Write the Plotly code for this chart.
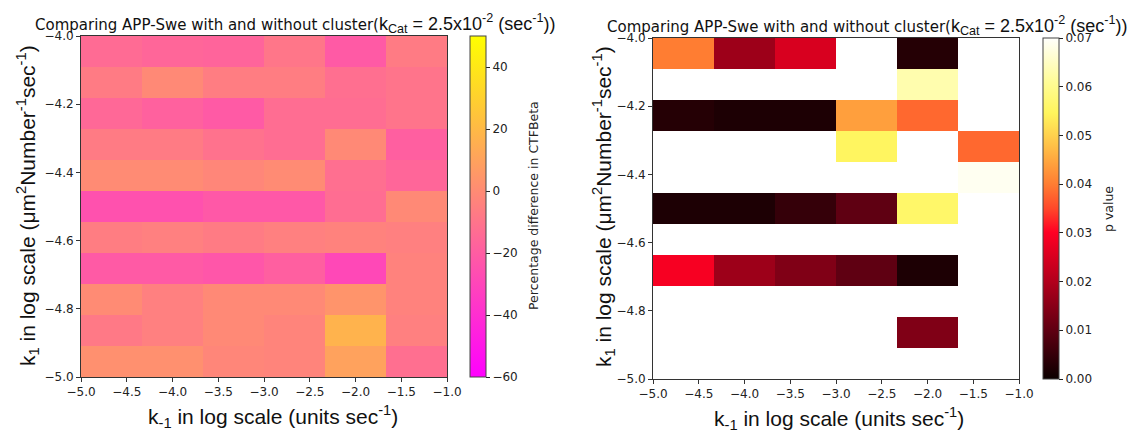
import plotly.graph_objects as go

# ---------------- data ----------------
# column edges (k_-1, log scale) and row edges (k_1, log scale)
k_minus1_edges = [-5.0, -13/3, -11/3, -3.0, -7/3, -5/3, -1.0]
k1_edges = [-5.0, -4.9091, -4.8182, -4.7273, -4.6364, -4.5455,
            -4.4545, -4.3636, -4.2727, -4.1818, -4.0909, -4.0]

# percentage difference in CTFBeta, rows listed from top (k1=-4.0) to bottom (k1=-5.0)
pct_diff_rows = [
    [-14, -16, -17, -9, -21, -7],
    [-7, -1, -6, -6, -12, -10],
    [-15, -18, -21, -13, -13, -10],
    [-7, -7, -11, -13, -1, -19],
    [0, 0, -2, 0, -12, -16],
    [-25, -25, -22, -22, -13, -1],
    [-6, -5, -7, -5, -4, -5],
    [-21, -21, -23, -19, -29, -4],
    [0, -5, -1, -1, 4, -4],
    [-8, -5, -1, -3, 17, -5],
    [2, 2, -2, -3, 10, -12],
]

N = None
# p values, rows from top to bottom (None = not shown)
p_value_rows = [
    [0.040, 0.0175, 0.025, N, 0.003, N],
    [N, N, N, N, 0.063, N],
    [0.003, 0.002, 0.002, 0.044, 0.038, N],
    [N, N, N, 0.055, N, 0.038],
    [N, N, N, N, N, 0.069],
    [0.002, 0.002, 0.005, 0.010, 0.056, N],
    [N, N, N, N, N, N],
    [0.029, 0.0175, 0.014, 0.010, 0.002, N],
    [N, N, N, N, N, N],
    [N, N, N, N, 0.014, N],
    [N, N, N, N, N, N],
]

x_ticks = [-5.0, -4.5, -4.0, -3.5, -3.0, -2.5, -2.0, -1.5, -1.0]
y_ticks = [-5.0, -4.8, -4.6, -4.4, -4.2, -4.0]
pct_cbar_ticks = [-60, -40, -20, 0, 20, 40]
p_cbar_ticks = [0.0, 0.01, 0.02, 0.03, 0.04, 0.05, 0.06, 0.07]

pct_z = pct_diff_rows[::-1]
p_z = p_value_rows[::-1]

# ---------------- styling ----------------
W, H = 1137, 434
spring = [[0.0, 'rgb(255,0,255)'], [1.0, 'rgb(255,255,0)']]
hot = [
    [0.0, 'rgb(12,0,0)'],
    [0.143, 'rgb(95,0,18)'],
    [0.286, 'rgb(178,0,28)'],
    [0.43, 'rgb(255,0,35)'],
    [0.5, 'rgb(255,72,42)'],
    [0.571, 'rgb(255,125,50)'],
    [0.68, 'rgb(255,190,70)'],
    [0.78, 'rgb(255,245,92)'],
    [0.87, 'rgb(255,252,150)'],
    [1.0, 'rgb(255,255,252)'],
]

def px_x(p):
    return p / W

def px_y(p):
    return 1 - p / H

tick_font = dict(family='DejaVu Sans', size=12, color='#222')

fig = go.Figure()

fig.add_trace(go.Heatmap(
    x=k_minus1_edges, y=k1_edges, z=pct_z,
    colorscale=spring, zmin=-60, zmax=50,
    xaxis='x', yaxis='y',
    colorbar=dict(
        x=px_x(470), xanchor='left', xpad=0, ypad=0,
        y=(px_y(36) + px_y(377)) / 2, yanchor='middle',
        len=341 / H, lenmode='fraction',
        thickness=16, thicknessmode='pixels',
        outlinewidth=1, outlinecolor='#444',
        tickvals=pct_cbar_ticks, ticks='outside', ticklen=4,
        tickcolor='#222', tickfont=tick_font,
    ),
    hoverinfo='skip',
))

fig.add_trace(go.Heatmap(
    x=k_minus1_edges, y=k1_edges, z=p_z,
    colorscale=hot, zmin=0, zmax=0.07,
    xaxis='x2', yaxis='y2',
    colorbar=dict(
        x=px_x(1043), xanchor='left', xpad=0, ypad=0,
        y=(px_y(38) + px_y(379)) / 2, yanchor='middle',
        len=341 / H, lenmode='fraction',
        thickness=16, thicknessmode='pixels',
        outlinewidth=1, outlinecolor='#444',
        tickvals=p_cbar_ticks, tickformat='.2f', ticks='outside', ticklen=4,
        tickcolor='#222', tickfont=tick_font,
    ),
    hoverinfo='skip',
))

axis_common = dict(
    showline=True, mirror=True, linecolor='#333', linewidth=1,
    ticks='outside', ticklen=4, tickcolor='#333', tickfont=tick_font,
    showgrid=False, zeroline=False, tickformat='.1f',
)

fig.update_layout(
    width=W, height=H,
    margin=dict(l=0, r=0, t=0, b=0, autoexpand=False),
    paper_bgcolor='white', plot_bgcolor='white',
    showlegend=False,
    xaxis=dict(domain=[px_x(81), px_x(447)], range=[-5, -1], tickvals=x_ticks,
               anchor='y', **axis_common),
    yaxis=dict(domain=[px_y(377), px_y(36)], range=[-5, -4], tickvals=y_ticks,
               anchor='x', **axis_common),
    xaxis2=dict(domain=[px_x(653), px_x(1019)], range=[-5, -1], tickvals=x_ticks,
                anchor='y2', **axis_common),
    yaxis2=dict(domain=[px_y(379), px_y(38)], range=[-5, -4], tickvals=y_ticks,
                anchor='x2', **axis_common),
)

title_text = ('Comparing APP-Swe with and without cluster('
              '<span style="font-family:Liberation Sans;font-size:18px">'
              'k<sub>Cat</sub> = 2.5x10<sup>-2</sup> (sec<sup>-1</sup>))</span>')
xlab = 'k<sub>-1</sub> in log scale (units sec<sup>-1</sup>)'
ylab = 'k<sub>1</sub> in log scale (\u03bcm<sup>2</sup>Number<sup>-1</sup>sec<sup>-1</sup>)'

label_font = dict(family='Liberation Sans', size=21, color='#111')
title_font = dict(family='DejaVu Sans', size=15, color='#111')
cb_font = dict(family='DejaVu Sans', size=12.5, color='#222')

annos = [
    dict(text=title_text, x=px_x(33), y=px_y(23), xanchor='left', yanchor='middle', font=title_font),
    dict(text=title_text, x=px_x(605), y=px_y(25), xanchor='left', yanchor='middle', font=title_font),
    dict(text=xlab, x=px_x(273), y=px_y(416), xanchor='center', yanchor='middle', font=label_font),
    dict(text=xlab, x=px_x(839), y=px_y(418), xanchor='center', yanchor='middle', font=label_font),
    dict(text=ylab, x=px_x(27), y=px_y(206), xanchor='center', yanchor='middle', textangle=-90, font=label_font),
    dict(text=ylab, x=px_x(603), y=px_y(207), xanchor='center', yanchor='middle', textangle=-90, font=label_font),
    dict(text='Percentage difference in CTFBeta', x=px_x(533), y=px_y(206), xanchor='center',
         yanchor='middle', textangle=-90, font=cb_font),
    dict(text='p value', x=px_x(1108), y=px_y(209), xanchor='center', yanchor='middle',
         textangle=-90, font=cb_font),
]
for a in annos:
    a.update(xref='paper', yref='paper', showarrow=False)
fig.update_layout(annotations=annos)

fig.write_html('out.html')
